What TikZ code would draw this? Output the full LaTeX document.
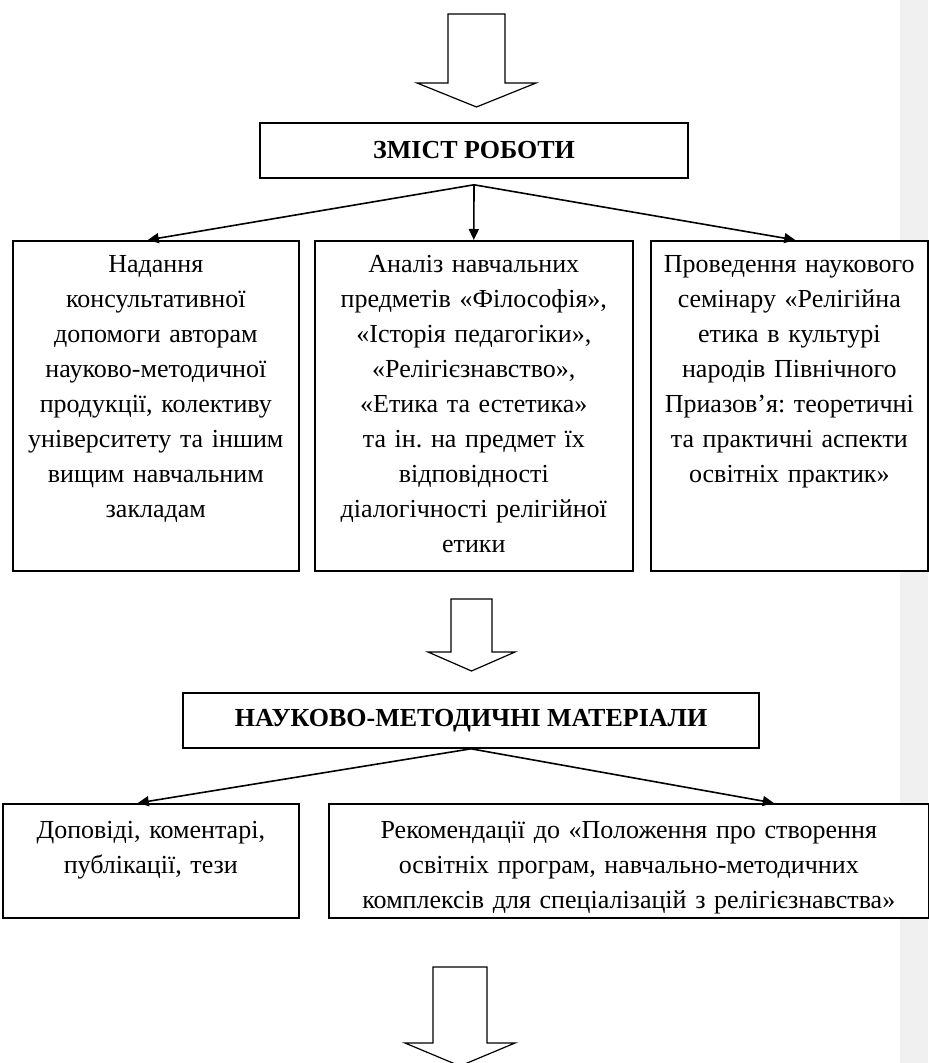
\documentclass[tikz,border=0pt]{standalone}
\usepackage{fontspec}
\setmainfont{Liberation Serif}
\usetikzlibrary{positioning,arrows.meta}
\definecolor{sidegray}{RGB}{240,240,240}
\frenchspacing

\begin{document}
\begin{tikzpicture}[x=0.5pt,y=-0.5pt,
  box/.style={draw,fill=white,line width=0.8pt,anchor=north west,align=center,
    inner xsep=1pt,inner ysep=0pt,font=\fontsize{13}{17.5}\selectfont},
  headbox/.style={draw,fill=white,line width=0.8pt,
    font=\bfseries\fontsize{13}{15}\selectfont},
  bigarrow/.style={draw,fill=white,line width=0.6pt,line join=miter},
  link/.style={line width=0.8pt,-{Triangle[length=5.5pt,width=5pt]}}
]
\useasboundingbox (0,0) rectangle (928,1063);
% the margin on the right
\fill[sidegray] (900,0) rectangle (928,1063);

% the big arrows
\draw[bigarrow] (448,14) -- (505,14) -- (505,83) -- (536,83) -- (476.5,107)
  -- (417,83) -- (448,83) -- cycle;
\draw[bigarrow] (451,599) -- (492,599) -- (492,652) -- (515,652) -- (471.5,671)
  -- (428,652) -- (451,652) -- cycle;
\draw[bigarrow] (433,967) -- (487,967) -- (487,1043) -- (515,1043) -- (460,1066)
  -- (405,1043) -- (433,1043) -- cycle;

% the headings
\node[headbox,minimum width=214pt,minimum height=27.5pt] (zmist) at (474,150.5)
  {ЗМІСТ РОБОТИ};
\node[headbox,minimum width=288pt,minimum height=27.5pt] (naukovo) at (471,720.5)
  {НАУКОВО-МЕТОДИЧНІ МАТЕРІАЛИ};

% the work boxes
\node[box,text width=141pt,text height=16pt,text depth=149pt] (b1) at (12,240)
  {Надання\\ консультативної\\ допомоги авторам\\ науково-методичної\\
   продукції, колективу\\ університету та іншим\\ вищим навчальним\\ закладам};
\node[box,text width=157pt,text height=16pt,text depth=149pt] (b2) at (314,240)
  {Аналіз навчальних\\ предметів «Філософія»,\\ «Історія педагогіки»,\\
   «Релігієзнавство»,\\ «Етика та естетика»\\ та ін. на предмет їх\\
   відповідності\\ діалогічності релігійної\\ етики};
\node[box,text width=136.5pt,text height=16pt,text depth=149pt] (b3) at (650,240)
  {Проведення наукового\\ семінару «Релігійна\\ етика в культурі\\
   народів Північного\\ Приазов’я: теоретичні\\ та практичні аспекти\\
   освітніх практик»};

% the material boxes
\node[box,text width=146pt,text height=17.5pt,text depth=39.5pt] (b4) at (2,803)
  {Доповіді, коментарі,\\ публікації, тези};
\node[box,text width=298pt,text height=17.5pt,text depth=39.5pt] (b5) at (328,803)
  {Рекомендації до «Положення про створення\\ освітніх програм, навчально-методичних\\
   комплексів для спеціалізацій з релігієзнавства»};

% the links
\draw[link] ([yshift=-3pt]zmist.south) -- ([xshift=-4pt]b1.north);
\draw[link] ([yshift=-3pt]zmist.south) -- (b2.north);
\draw[link] ([yshift=-3pt]zmist.south) -- ([xshift=3pt]b3.north);
\draw[link] (naukovo.south) -- ([xshift=-6.5pt]b4.north);
\draw[link] (naukovo.south) -- ([xshift=72.5pt]b5.north);
\end{tikzpicture}
\end{document}
